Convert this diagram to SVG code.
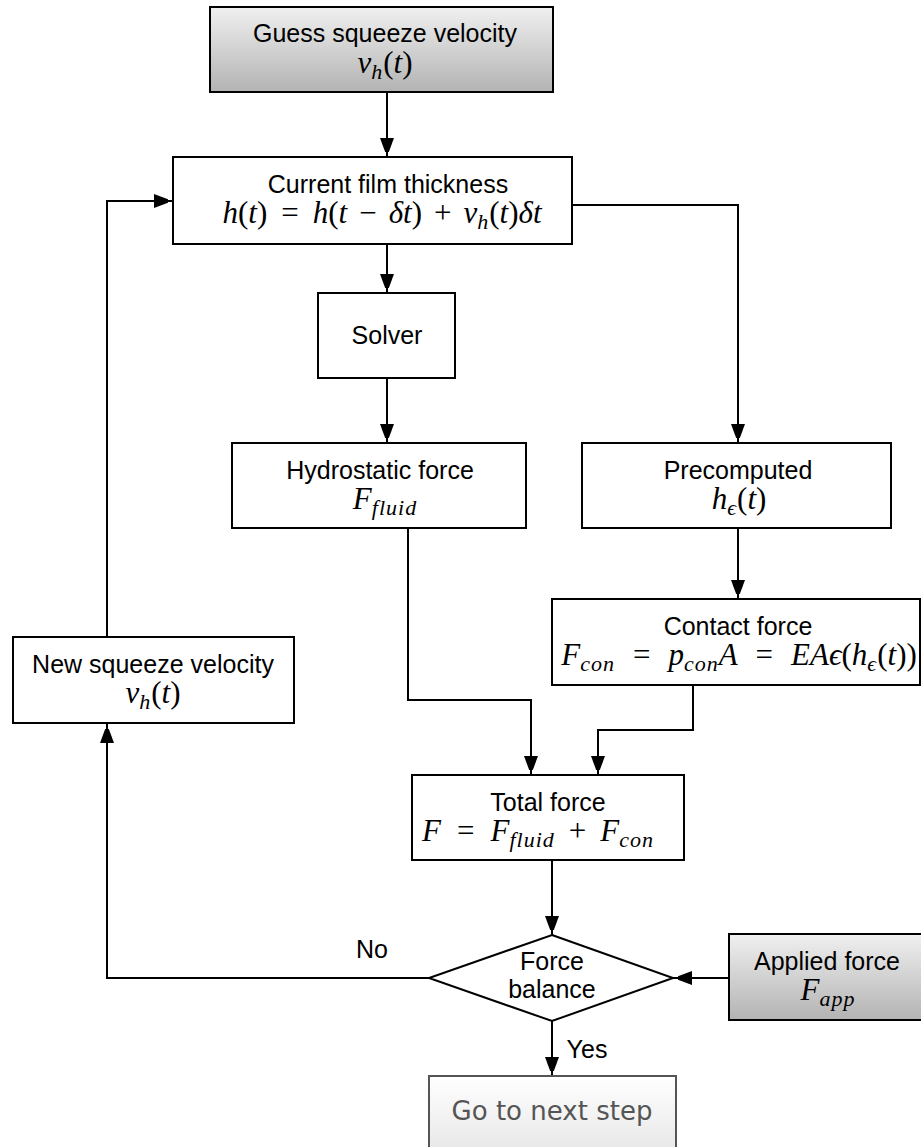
<svg xmlns="http://www.w3.org/2000/svg" width="921" height="1147" viewBox="0 0 921 1147">
  <defs>
    <linearGradient id="grayFill" x1="0" y1="0" x2="0" y2="1">
      <stop offset="0" stop-color="#f0f0f0"/>
      <stop offset="1" stop-color="#b3b3b3"/>
    </linearGradient>
    <linearGradient id="lightFill" x1="0" y1="0" x2="0" y2="1">
      <stop offset="0" stop-color="#ffffff"/>
      <stop offset="1" stop-color="#e6e6e6"/>
    </linearGradient>
    <marker id="arrow" markerUnits="userSpaceOnUse" markerWidth="14" markerHeight="20" viewBox="0 0 14 20" refX="19" refY="7" orient="auto">
      <path d="M0,0 L19,7 L0,14 Z" fill="#000"/>
    </marker>
  </defs>
  <style>
    .box { fill: #fff; stroke: #000; stroke-width: 2; }
    .gbox { fill: url(#grayFill); stroke: #000; stroke-width: 2; }
    .lbl { font-family: "Liberation Sans", Arial, sans-serif; font-size: 25px; fill: #000; text-anchor: middle; }
    .math { font-family: "Liberation Serif", "DejaVu Serif", serif; font-size: 31px; fill: #000; text-anchor: middle; }
    .it { font-style: italic; }
    .sub { font-style: italic; font-size: 22px; letter-spacing: 1px; }
    .edge { fill: none; stroke: #000; stroke-width: 2; }
  </style>

  <!-- connectors -->
  <g id="connectors">
    <path class="edge" d="M387,92 V157" marker-end="url(#arrow)"/>
    <path class="edge" d="M387,244 V293" marker-end="url(#arrow)"/>
    <path class="edge" d="M572,205 H738 V443" marker-end="url(#arrow)"/>
    <path class="edge" d="M387,378 V443" marker-end="url(#arrow)"/>
    <path class="edge" d="M408,528 V700 H531 V775" marker-end="url(#arrow)"/>
    <path class="edge" d="M738,528 V599" marker-end="url(#arrow)"/>
    <path class="edge" d="M693,685 V730 H598 V775" marker-end="url(#arrow)"/>
    <path class="edge" d="M552,860 V935" marker-end="url(#arrow)"/>
    <path class="edge" d="M429,978 H107 V724" marker-end="url(#arrow)"/>
    <path class="edge" d="M107,637 V201 H173" marker-end="url(#arrow)"/>
    <path class="edge" d="M729,978 H673" marker-end="url(#arrow)"/>
    <path class="edge" d="M552,1020 V1076" marker-end="url(#arrow)"/>
    <text class="lbl" x="372" y="958">No</text>
    <text class="lbl" x="587" y="1058">Yes</text>
  </g>

  <g id="guess">
    <rect class="gbox" x="210" y="7" width="343" height="85"/>
    <text class="lbl" x="385" y="42">Guess squeeze velocity</text>
    <text class="math" x="385" y="73"><tspan class="it">v</tspan><tspan class="sub" dy="6">h</tspan><tspan dy="-6">(</tspan><tspan class="it">t</tspan>)</text>
  </g>

  <g id="current">
    <rect class="box" x="173" y="157" width="399" height="87"/>
    <text class="lbl" x="388" y="193">Current film thickness</text>
    <text class="math" x="382" y="223"><tspan class="it">h</tspan>(<tspan class="it">t</tspan>)<tspan dx="14">=</tspan><tspan class="it" dx="14">h</tspan>(<tspan class="it">t</tspan><tspan dx="12">−</tspan><tspan class="it" dx="12">δt</tspan>)<tspan dx="12">+</tspan><tspan class="it" dx="12">v</tspan><tspan class="sub" dy="6">h</tspan><tspan dy="-6">(</tspan><tspan class="it">t</tspan>)<tspan class="it">δt</tspan></text>
  </g>

  <g id="solver">
    <rect class="box" x="318" y="293" width="137" height="85"/>
    <text class="lbl" x="387" y="344">Solver</text>
  </g>

  <g id="hydrostatic">
    <rect class="box" x="232" y="443" width="294" height="85"/>
    <text class="lbl" x="380" y="479">Hydrostatic force</text>
    <text class="math" x="385" y="509"><tspan class="it">F</tspan><tspan class="sub" dy="6">fluid</tspan></text>
  </g>

  <g id="precomputed">
    <rect class="box" x="582" y="443" width="309" height="85"/>
    <text class="lbl" x="738" y="479">Precomputed</text>
    <text class="math" x="739" y="509"><tspan class="it">h</tspan><tspan class="sub" dy="6">ϵ</tspan><tspan dy="-6">(</tspan><tspan class="it">t</tspan>)</text>
  </g>

  <g id="contact">
    <rect class="box" x="552" y="599" width="368" height="86"/>
    <text class="lbl" x="738" y="635">Contact force</text>
    <text class="math" x="739" y="665"><tspan class="it">F</tspan><tspan class="sub" dy="6">con</tspan><tspan dy="-6" dx="18">=</tspan><tspan class="it" dx="18">p</tspan><tspan class="sub" dy="6">con</tspan><tspan class="it" dy="-6">A</tspan><tspan dx="18">=</tspan><tspan class="it" dx="18">EAϵ</tspan>(<tspan class="it">h</tspan><tspan class="sub" dy="6">ϵ</tspan><tspan dy="-6">(</tspan><tspan class="it">t</tspan>))</text>
  </g>

  <g id="newvelocity">
    <rect class="box" x="13" y="637" width="281" height="86"/>
    <text class="lbl" x="153" y="673">New squeeze velocity</text>
    <text class="math" x="153" y="703"><tspan class="it">v</tspan><tspan class="sub" dy="6">h</tspan><tspan dy="-6">(</tspan><tspan class="it">t</tspan>)</text>
  </g>

  <g id="total">
    <rect class="box" x="412" y="775" width="272" height="85"/>
    <text class="lbl" x="548" y="811">Total force</text>
    <text class="math" x="538" y="841"><tspan class="it">F</tspan><tspan dx="16">=</tspan><tspan class="it" dx="16">F</tspan><tspan class="sub" dy="6">fluid</tspan><tspan dy="-6" dx="14">+</tspan><tspan class="it" dx="14">F</tspan><tspan class="sub" dy="6">con</tspan></text>
  </g>

  <g id="balance">
    <polygon class="box" points="552,935 673,978 552,1021 429,978"/>
    <text class="lbl" x="552" y="970">Force</text>
    <text class="lbl" x="552" y="998">balance</text>
  </g>

  <g id="applied">
    <rect class="gbox" x="729" y="934" width="193" height="86"/>
    <text class="lbl" x="827" y="970">Applied force</text>
    <text class="math" x="828" y="1000"><tspan class="it">F</tspan><tspan class="sub" dy="6">app</tspan></text>
  </g>

  <g id="nextstep">
    <rect x="429" y="1076" width="247" height="80" fill="url(#lightFill)" stroke="#555" stroke-width="2"/>
    <text x="552" y="1120" font-family="'DejaVu Sans', Verdana, sans-serif" font-size="26px" fill="#555" text-anchor="middle">Go to next step</text>
  </g>
</svg>
